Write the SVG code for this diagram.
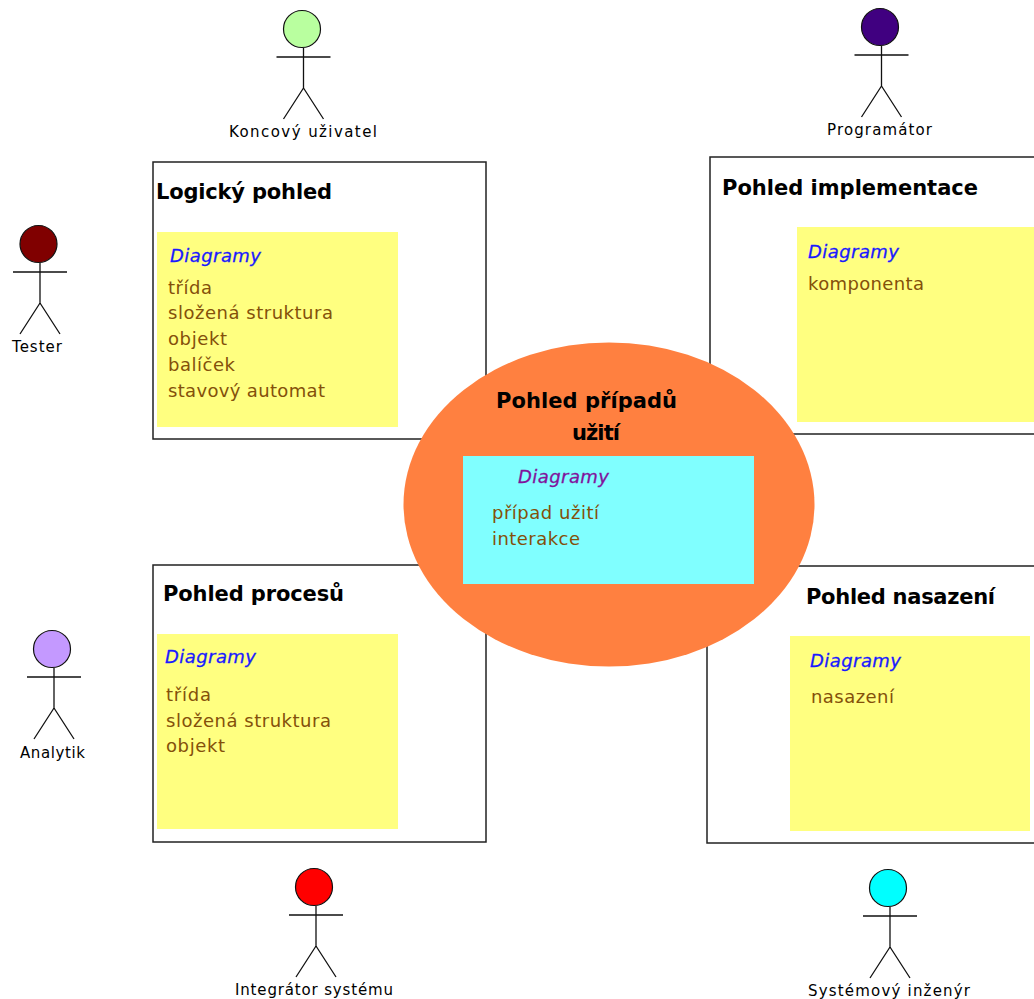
<svg xmlns="http://www.w3.org/2000/svg" width="1034" height="999" viewBox="0 0 1034 999">
<style>
.box{fill:#fff;stroke:#222;stroke-width:1.5}
.note{fill:#ffff80}
.h{font:bold 21px "DejaVu Sans",sans-serif;fill:#000}
.d{font:italic 18px "DejaVu Sans",sans-serif;fill:#1a1aff;stroke:#1a1aff;stroke-width:.3}
.i{font:18px "DejaVu Sans",sans-serif;fill:#84500a}
.a{font:15px "DejaVu Sans",sans-serif;fill:#000}
.s{fill:none;stroke:#111;stroke-width:1.3}
.o{stroke:#111;stroke-width:1.2}
</style>
<defs><path id="fig" class="s" d="M0 19V59M-27 28H27M0 59L-20 90M0 59L20 90"/></defs>
<rect width="1034" height="999" fill="#fff"/>
<g id="connectors"/>
<g id="logical"><rect class="box" x="153" y="162" width="333" height="277"/><text class="h" x="156" y="199" textLength="176">Logický pohled</text><rect class="note" x="157" y="232" width="241" height="195"/><text class="d" x="170" y="262" textLength="91">Diagramy</text><text class="i" x="168" y="294" textLength="44">třída</text><text class="i" x="168" y="319" textLength="165">složená struktura</text><text class="i" x="168" y="345" textLength="59">objekt</text><text class="i" x="168" y="371" textLength="67">balíček</text><text class="i" x="168" y="397" textLength="157">stavový automat</text></g>
<g id="implementation"><rect class="box" x="710" y="157" width="330" height="277"/><text class="h" x="722" y="195" textLength="256">Pohled implementace</text><rect class="note" x="797" y="227" width="240" height="195"/><text class="d" x="808" y="258" textLength="91">Diagramy</text><text class="i" x="808" y="290" textLength="116">komponenta</text></g>
<g id="process"><rect class="box" x="153" y="565" width="333" height="277"/><text class="h" x="163" y="601" textLength="181">Pohled procesů</text><rect class="note" x="157" y="634" width="241" height="195"/><text class="d" x="165" y="663" textLength="91">Diagramy</text><text class="i" x="166" y="701" textLength="45">třída</text><text class="i" x="166" y="727" textLength="165">složená struktura</text><text class="i" x="166" y="752" textLength="59">objekt</text></g>
<g id="deployment"><rect class="box" x="707" y="566" width="330" height="277"/><text class="h" x="806" y="604" textLength="189">Pohled nasazení</text><rect class="note" x="790" y="636" width="240" height="195"/><text class="d" x="810" y="667" textLength="91">Diagramy</text><text class="i" x="811" y="703" textLength="83">nasazení</text></g>
<g id="usecase"><ellipse cx="609" cy="504.500" rx="205.500" ry="162" fill="#ff8040"/><text class="h" x="496" y="408" textLength="181">Pohled případů</text><text class="h" x="572" y="440" textLength="48">užití</text><rect x="463" y="456" width="291" height="128" fill="#80ffff"/><text class="d" x="518" y="483" textLength="91" style="fill:#80139c;stroke:#80139c">Diagramy</text><text class="i" x="492" y="519" textLength="107">případ užití</text><text class="i" x="492" y="545" textLength="88">interakce</text></g>
<g id="a1"><circle class="o" cx="302" cy="29" r="18.500" fill="#b9ff9f"/><use href="#fig" x="303.500" y="29"/><text class="a" x="229" y="137" textLength="148">Koncový uživatel</text></g>
<g id="a2"><circle class="o" cx="880" cy="27" r="18.500" fill="#400080"/><use href="#fig" x="881.500" y="27"/><text class="a" x="827" y="135" textLength="105">Programátor</text></g>
<g id="a3"><circle class="o" cx="38.500" cy="244" r="18.500" fill="#800000"/><use href="#fig" x="40" y="244"/><text class="a" x="12" y="352" textLength="50">Tester</text></g>
<g id="a4"><circle class="o" cx="52" cy="649" r="18.500" fill="#c499ff"/><use href="#fig" x="54" y="649"/><text class="a" x="20" y="758" textLength="65">Analytik</text></g>
<g id="a5"><circle class="o" cx="314" cy="887" r="18.500" fill="#ff0000"/><use href="#fig" x="316" y="887"/><text class="a" x="235" y="995" textLength="158">Integrátor systému</text></g>
<g id="a6"><circle class="o" cx="888" cy="888" r="18.500" fill="#00ffff"/><use href="#fig" x="890" y="888"/><text class="a" x="808" y="996" textLength="162">Systémový inženýr</text></g>
</svg>
